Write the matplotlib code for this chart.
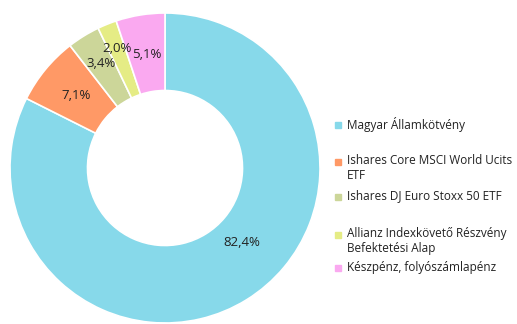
import numpy as np
import matplotlib.pyplot as plt

labels = ['Magyar Államkötvény',
          'Ishares Core MSCI World Ucits\nETF',
          'Ishares DJ Euro Stoxx 50 ETF',
          'Allianz Indexkövető Részvény\nBefektetési Alap',
          'Készpénz, folyószámlapénz']
shares = [82.4, 7.1, 3.4, 2.0, 5.1]
colors = ['#87d9ea', '#ff9966', '#ccd699', '#e5ec85', '#faa9f0']

# legend rows: y of the first line, in pixels from top
legend_y = [125, 162, 197, 235, 268]

plt.rcParams['font.family'] = ['Open Sans', 'DejaVu Sans']

W, H = 517, 324
fig = plt.figure(figsize=(W / 100, H / 100), dpi=100)

# donut centre and radius in pixels
cx, cy, r = 165, 168, 155
ax = fig.add_axes([(cx - r) / W, (H - cy - r) / H, 2 * r / W, 2 * r / H])

wedges, texts, autotexts = ax.pie(
    shares, colors=colors, startangle=90, counterclock=False,
    radius=1.0, pctdistance=0.76,
    autopct=lambda p: f'{p:.1f}%'.replace('.', ','),
    wedgeprops=dict(width=0.5, edgecolor='white', linewidth=1.2),
    textprops=dict(fontsize=9.5, color='#222222'))

# nudge the value labels: the thin slices push theirs outwards
dist = [0.69, 0.74, 0.79, 0.83, 0.74]
for w, t, d in zip(wedges, autotexts, dist):
    mid = np.deg2rad((w.theta1 + w.theta2) / 2)
    t.set_position((d * np.cos(mid), d * np.sin(mid)))
# the large slice label sits off its bisector
ang = np.deg2rad(-44)
autotexts[0].set_position((dist[0] * np.cos(ang), dist[0] * np.sin(ang)))

ax.set_xlim(-1, 1)
ax.set_ylim(-1, 1)
ax.axis('off')

for lab, col, y in zip(labels, colors, legend_y):
    fig.patches.append(plt.Rectangle((335 / W, (H - y - 3) / H), 6 / W, 6 / H,
                                     transform=fig.transFigure, color=col))
    fig.text(347 / W, (H - y + 7.5) / H, lab, fontsize=8.5, color='#222222',
             va='top', ha='left', linespacing=1.18)

fig.savefig('out.png', dpi=100)
